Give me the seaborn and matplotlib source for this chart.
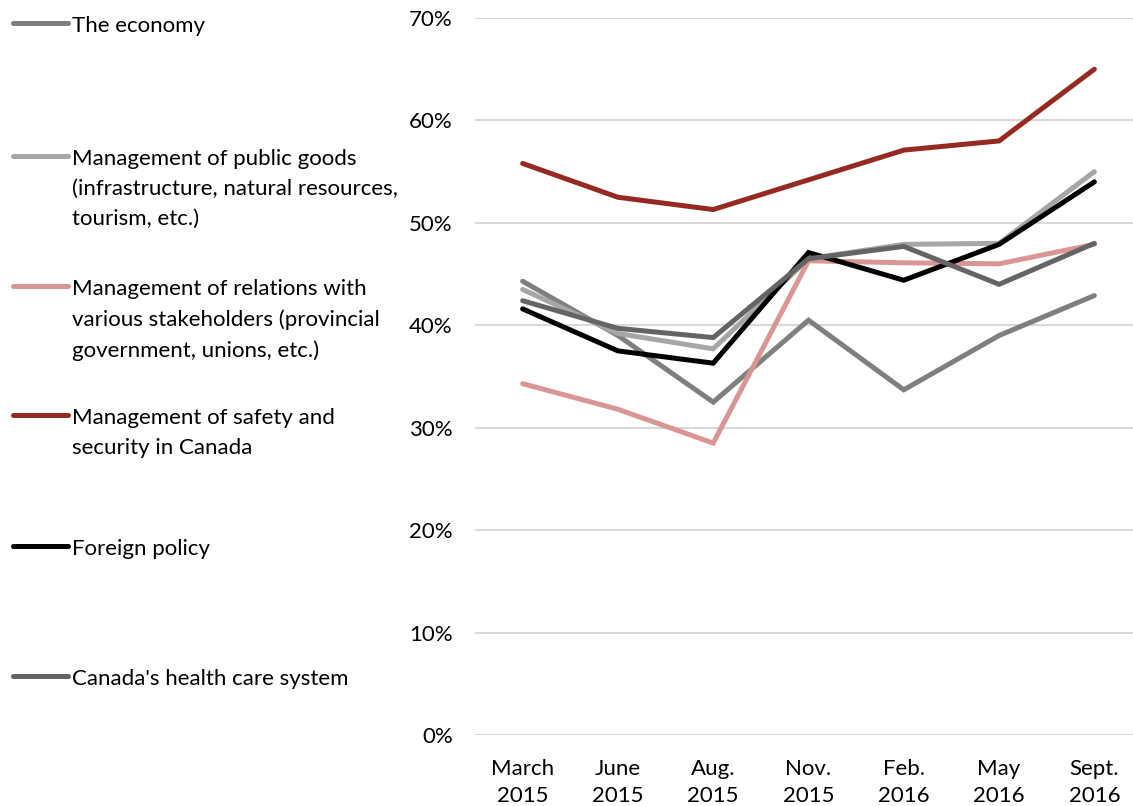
import matplotlib
matplotlib.use("Agg")
import matplotlib.pyplot as plt
import seaborn as sns
import pandas as pd
from matplotlib.lines import Line2D
from matplotlib.ticker import FuncFormatter

periods = ["March\n2015", "June\n2015", "Aug.\n2015", "Nov.\n2015", "Feb.\n2016", "May\n2016", "Sept.\n2016"]

series_names = [
    "The economy",
    "Management of public goods\n(infrastructure, natural resources,\ntourism, etc.)",
    "Management of relations with\nvarious stakeholders (provincial\ngovernment, unions, etc.)",
    "Management of safety and\nsecurity in Canada",
    "Foreign policy",
    "Canada's health care system",
]

economy = [44.3, 39.0, 32.5, 40.5, 33.7, 39.0, 42.9]
public_goods = [43.5, 39.2, 37.7, 46.5, 47.9, 48.0, 55.0]
relations = [34.3, 31.8, 28.5, 46.3, 46.1, 46.0, 47.9]
safety = [55.8, 52.5, 51.3, 54.2, 57.1, 58.0, 65.0]
foreign = [41.6, 37.5, 36.3, 47.1, 44.4, 47.9, 54.0]
health = [42.4, 39.7, 38.8, 46.5, 47.7, 44.0, 48.0]

colors = ["#7f7f7f", "#a6a6a6", "#da9694", "#962a22", "#000000", "#646464"]

values = [economy, public_goods, relations, safety, foreign, health]

rows = []
for name, vals in zip(series_names, values):
    for p, v in zip(periods, vals):
        rows.append({"period": p, "series": name, "value": v})
df = pd.DataFrame(rows)

sns.set_theme(style="white")
plt.rcParams["font.family"] = ["Lato", "DejaVu Sans"]

fig = plt.figure(figsize=(11.33, 8.06), dpi=100)
ax = fig.add_axes([475 / 1133, 71 / 806, 667 / 1133, 717 / 806])

sns.lineplot(data=df, x="period", y="value", hue="series", hue_order=series_names,
             palette=colors, linewidth=3.6, sort=False, legend=False, ax=ax,
             solid_capstyle="round", solid_joinstyle="miter")

ax.set_xlim(-0.5, len(periods) - 0.5)
ax.set_ylim(0, 70)
ax.set_yticks(range(0, 71, 10))
ax.yaxis.set_major_formatter(FuncFormatter(lambda v, _: f"{int(v)}%"))
ax.grid(axis="y", color="#d9d9d9", linewidth=1.5)
ax.set_axisbelow(True)
for s in ax.spines.values():
    s.set_visible(False)
ax.tick_params(axis="both", length=0, labelsize=16, colors="#000000")
ax.tick_params(axis="y", pad=16)
ax.tick_params(axis="x", pad=17)
for lab in ax.get_xticklabels():
    lab.set_linespacing(1.45)
ax.set_xlabel("")
ax.set_ylabel("")

# Manual legend on the left
first_line_y = [23, 156, 286, 415, 546, 676]
for name, col, yy in zip(series_names, colors, first_line_y):
    yf = 1 - yy / 806
    fig.add_artist(Line2D([13 / 1133, 68 / 1133], [yf, yf], color=col, linewidth=3.6,
                          solid_capstyle="round", transform=fig.transFigure))
    fig.text(72 / 1133, 1 - (yy - 7) / 806, name, ha="left", va="top", fontsize=16,
             linespacing=1.62, color="#000000")

fig.savefig("out.png", dpi=100)
